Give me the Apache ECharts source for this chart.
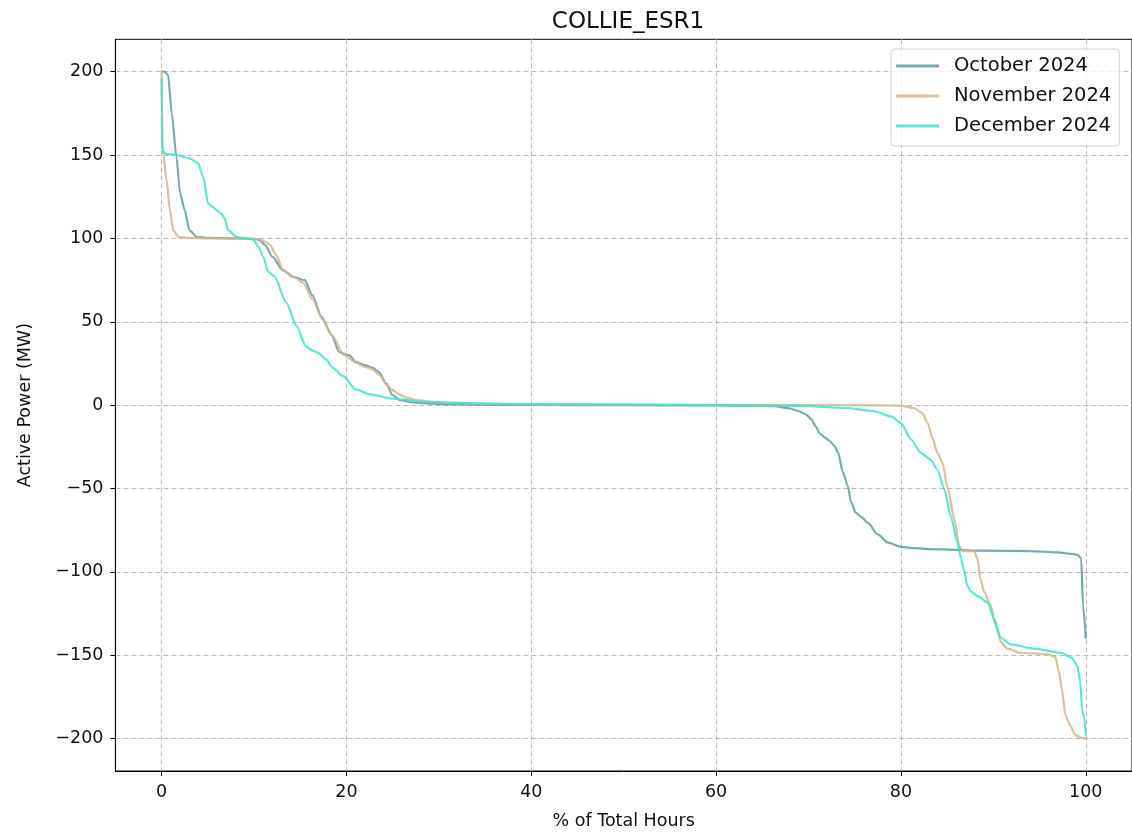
<!DOCTYPE html>
<html>
<head>
<meta charset="utf-8">
<script src="https://cdn.jsdelivr.net/npm/echarts@6/dist/echarts.min.js"></script>
<style>
html,body{margin:0;padding:0;background:#fff;}
#chart{width:1132px;height:835px;}
</style>
</head>
<body>
<div id="chart"></div>
<script>
const chartTitle = 'COLLIE_ESR1';
const seriesNames = ['October 2024', 'November 2024', 'December 2024'];
const xTicks = [0, 20, 40, 60, 80, 100];
const yTicks = [-200, -150, -100, -50, 0, 50, 100, 150, 200];

const octX = [0, 0.3, 0.7, 1.1, 1.6, 2.0, 2.5, 3.0, 3.8, 5, 8, 10, 10.6, 11.2, 12, 13.1, 14.2, 15.5, 16.3, 17.3, 18.4, 19.2, 19.9, 20.3, 21.0, 22.0, 22.8, 23.5, 24.3, 25.0, 25.8, 27, 28.6, 30.5, 34, 40, 50, 60, 64, 66.3, 68, 68.9, 69.7, 70.3, 70.8, 71.2, 71.8, 72.3, 72.8, 73.2, 73.7, 74.25, 74.6, 75.1, 75.7, 76.4, 77.5, 78.6, 80.0, 81.5, 83.2, 86, 88.6, 94.0, 96.9, 98.7, 99.2, 99.5, 99.7, 100];
const octY = [200, 200, 198, 175, 149, 127, 117, 105, 101, 100.3, 100, 99.8, 99, 96, 89, 81, 77, 75, 66, 53, 42, 32, 30, 30, 26, 24, 22.5, 20, 13, 6, 3, 1.8, 1.1, 0.6, 0.3, 0.1, 0, -0.2, -0.3, -0.6, -2, -3.5, -5.5, -8.5, -13, -17, -19.5, -21.5, -24.5, -28.5, -40, -48.5, -58, -64.5, -67, -70.5, -77.5, -82.5, -85, -85.8, -86.3, -86.8, -87.3, -87.5, -88.3, -89.3, -90, -92, -120, -140];

const novX = [0, 0.1, 0.2, 0.54, 0.9, 1.25, 1.8, 3, 5, 8, 10, 10.6, 11.2, 11.7, 12.4, 13.1, 14.2, 15.3, 16.35, 17.4, 18.5, 19.6, 20.3, 21.0, 22.0, 22.8, 23.6, 24.3, 25.0, 25.7, 26.5, 27.5, 30.3, 34, 40, 50, 60, 70, 78, 80, 81.4, 82.3, 82.9, 83.4, 83.95, 84.5, 85.0, 85.8, 86.3, 86.7, 87.9, 88.3, 88.6, 89.0, 89.7, 90.25, 90.8, 91.5, 92.9, 95.8, 96.7, 97.1, 97.4, 97.8, 98.3, 98.9, 99.5, 100];
const novY = [201, 155, 150, 135, 117, 105, 101, 100.3, 100, 100, 99.8, 99.5, 98, 96.3, 90, 81.3, 77.3, 73.4, 63.4, 51.4, 41.4, 31.5, 28, 25.5, 23, 21.5, 18, 12.5, 9, 6.5, 4.5, 3.1, 1.6, 0.8, 0.4, 0.2, 0.1, 0, -0.1, -0.3, -1.7, -4.7, -10.7, -19.7, -28.6, -34.6, -48.6, -68.5, -84.5, -87.5, -87.5, -92.5, -104.5, -112, -120, -132, -142, -146, -148.5, -149.3, -151, -160, -170, -186, -192, -198, -199.5, -200];

const decX = [0, 0.02, 0.05, 0.3, 0.6, 1.6, 3.05, 3.95, 4.5, 5.03, 5.5, 5.93, 6.4, 6.83, 7.2, 8.1, 9.0, 9.9, 10.5, 11.0, 11.5, 12.2, 13.5, 14.6, 15.6, 16.2, 16.9, 17.8, 18.5, 19.6, 21.0, 22.5, 25.0, 28.6, 34, 40, 50, 60, 68.9, 74.25, 77.1, 78.9, 80.0, 81.1, 82.15, 83.2, 83.95, 84.7, 85.4, 86.1, 86.5, 86.8, 87.2, 87.6, 88.3, 89.4, 90.1, 90.8, 91.9, 94.4, 97.3, 98.5, 99.1, 99.4, 99.6, 99.85, 100];
const decY = [196, 175, 155, 151, 150.5, 150, 148, 145, 137, 121, 119, 117, 115, 112, 105, 101, 100, 99.3, 95, 89, 80.3, 77.3, 61.4, 47.4, 35.4, 33, 31.5, 27.5, 22.5, 17.5, 9.5, 6.5, 3.9, 1.9, 1.1, 0.6, 0.3, 0, -0.5, -1.7, -3.7, -6.7, -10.7, -20.6, -28.6, -32.6, -38.6, -50.6, -66.5, -82.5, -92, -98.5, -108.5, -112, -114.5, -118.5, -128.5, -139.5, -143.5, -146, -148.5, -151.5, -156.5, -166.5, -182.5, -188, -198];

const colors = ['#5f9ea0', '#d2b48c', '#40e0d0'];

function zip(xs, ys) { return xs.map((x, i) => [x, ys[i]]); }
const allData = [zip(octX, octY), zip(novX, novY), zip(decX, decY)];

const FONT = 'DejaVu Sans';
const fmt = v => String(v).replace('-', '\u2212');

const chart = echarts.init(document.getElementById('chart'), null, {renderer: 'canvas'});
chart.setOption({
  animation: false,
  backgroundColor: '#fff',
  title: {
    text: chartTitle,
    left: 623, top: 6, textAlign: 'center',
    textStyle: {fontFamily: FONT, fontSize: 23, fontWeight: 'normal', color: '#111'}
  },
  legend: {
    data: seriesNames,
    orient: 'vertical',
    left: 891, top: 49,
    padding: [7, 8, 10, 5],
    backgroundColor: 'rgba(255,255,255,0.8)',
    borderColor: '#d0d0d0', borderWidth: 1, borderRadius: 4,
    itemWidth: 43, itemHeight: 3, itemGap: 10,
    icon: 'rect',
    textStyle: {fontFamily: FONT, fontSize: 19.5, color: '#111', padding: [0, 0, 0, 10], lineHeight: 20}
  },
  grid: {
    left: 115.4, width: 1019.6, top: 39.3, bottom: 62.7,
    show: true, borderColor: '#000', borderWidth: 1, containLabel: false
  },
  xAxis: {
    type: 'value', min: -5, max: 105,
    name: '% of Total Hours', nameLocation: 'middle', nameGap: 41,
    nameTextStyle: {fontFamily: FONT, fontSize: 17.5, color: '#111'},
    axisLine: {show: true, onZero: false, lineStyle: {color: '#000', width: 1}},
    axisTick: {show: true, inside: false, length: 5, customValues: xTicks, lineStyle: {color: '#000'}},
    axisLabel: {customValues: xTicks, margin: 12, fontFamily: FONT, fontSize: 17.5, color: '#111', formatter: fmt},
    splitLine: {show: true, lineStyle: {color: '#b8b8b8', type: [5, 3], width: 1}}
  },
  yAxis: {
    type: 'value', min: -219.4, max: 219.4,
    name: 'Active Power (MW)', nameLocation: 'middle', nameGap: 81, nameRotate: 90,
    nameTextStyle: {fontFamily: FONT, fontSize: 17.5, color: '#111'},
    axisLine: {show: true, onZero: false, lineStyle: {color: '#000', width: 1}},
    axisTick: {show: true, inside: false, length: 5, customValues: yTicks, lineStyle: {color: '#000'}},
    axisLabel: {customValues: yTicks, margin: 12, fontFamily: FONT, fontSize: 17.5, color: '#111', formatter: fmt},
    splitLine: {show: true, lineStyle: {color: '#b8b8b8', type: [5, 3], width: 1}}
  },
  series: seriesNames.map((n, i) => ({
    name: n, type: 'line', data: allData[i],
    showSymbol: false, symbol: 'none', smooth: 0.25, smoothMonotone: 'x',
    color: colors[i],
    lineStyle: {color: colors[i], width: 2.2, opacity: 0.85},
    itemStyle: {color: colors[i], opacity: 0.85},
    z: 2 + i
  }))
});
</script>
</body>
</html>
